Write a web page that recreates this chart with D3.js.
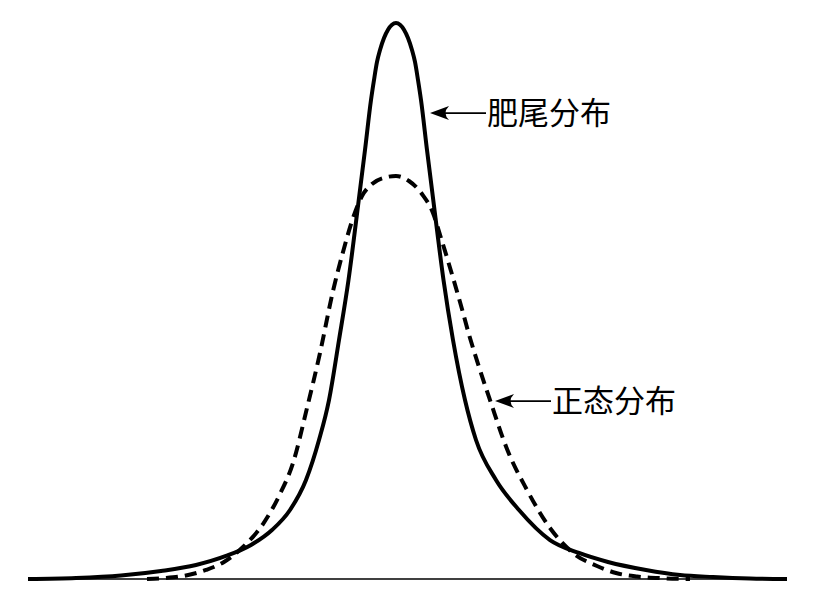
<!DOCTYPE html>
<html>
<head>
<meta charset="utf-8">
<script src="https://cdn.jsdelivr.net/npm/d3@7"></script>
<style>
  html, body { margin: 0; padding: 0; background: #fff; }
  svg { display: block; }
</style>
</head>
<body>
<svg id="chart" width="817" height="600"></svg>
<script>
// Fat-tailed distribution (solid) — x in units, relative density
const fatTailX = [-3.68, -3.20, -2.75, -2.35, -2.00, -1.70, -1.45, -1.24, -1.06, -0.90, -0.77, -0.67, -0.57, -0.475, -0.385, -0.31, -0.25, -0.22, -0.19, -0.16, -0.12, -0.08, -0.04, 0,
                  0.04, 0.08, 0.12, 0.16, 0.19, 0.22, 0.25, 0.31, 0.385, 0.475, 0.57, 0.69, 0.80, 1.00, 1.23, 1.54, 1.83, 2.12, 2.50, 2.84, 3.17, 3.54, 3.91];
const fatTailY = [0, 0.0018, 0.0063, 0.0144, 0.0252, 0.0414, 0.0612, 0.0881, 0.1241, 0.1781, 0.2500, 0.3219, 0.4299, 0.5378, 0.6637, 0.7716, 0.8615, 0.8975, 0.9299, 0.9514, 0.9730, 0.9879, 0.9969, 1.0,
                  0.9969, 0.9879, 0.9730, 0.9514, 0.9299, 0.8975, 0.8615, 0.7716, 0.6637, 0.5378, 0.4299, 0.3219, 0.2500, 0.1781, 0.1241, 0.0701, 0.0468, 0.0306, 0.0162, 0.0072, 0.0036, 0.0009, 0];

// Normal distribution (dashed)
const normalX = [-2.49, -2.30, -2.10, -1.90, -1.72, -1.53, -1.33, -1.16, -1.03, -0.89, -0.76, -0.63, -0.53, -0.43, -0.34, -0.24, -0.11, 0,
                 0.13, 0.26, 0.37, 0.45, 0.55, 0.64, 0.74, 0.84, 0.94, 1.11, 1.31, 1.54, 1.77, 2.01, 2.20, 2.41, 2.67, 2.94];
const normalY = [0, 0.0018, 0.0063, 0.0162, 0.0306, 0.0576, 0.0989, 0.1529, 0.2086, 0.3076, 0.4065, 0.5180, 0.5881, 0.6493, 0.6888, 0.7104, 0.7221, 0.7248,
                 0.7158, 0.6924, 0.6583, 0.6133, 0.5540, 0.4982, 0.4335, 0.3759, 0.3219, 0.2338, 0.1601, 0.0917, 0.0468, 0.0234, 0.0108, 0.0045, 0.0013, 0];

// Baseline extent
const baselineX = [-3.68, 3.91];

// Annotation labels (text + arrow tip in data units)
const labelText = ["肥尾分布", "正态分布"];
const labelTipX = [0.34, 0.99];
const labelTipY = [0.838, 0.320];

const svg = d3.select("#chart");
svg.append("rect").attr("width", 817).attr("height", 600).attr("fill", "#fff");

const x = d3.scaleLinear().domain([-4, 4]).range([-4, 796]);
const y = d3.scaleLinear().domain([0, 1]).range([579, 23]);

// baseline
svg.append("line")
  .attr("x1", x(baselineX[0])).attr("x2", x(baselineX[1]))
  .attr("y1", y(0)).attr("y2", y(0))
  .attr("stroke", "#000").attr("stroke-width", 1.6);

const line = d3.line()
  .x(d => x(d[0])).y(d => y(d[1]))
  .curve(d3.curveMonotoneX);

const fatData = fatTailX.map((v, i) => [v, fatTailY[i]]);
const normData = normalX.map((v, i) => [v, normalY[i]]);

svg.append("path")
  .attr("d", line(normData))
  .attr("fill", "none").attr("stroke", "#000")
  .attr("stroke-width", 4)
  .attr("stroke-dasharray", "12,7");

svg.append("path")
  .attr("d", line(fatData))
  .attr("fill", "none").attr("stroke", "#000")
  .attr("stroke-width", 4)
  .attr("stroke-linejoin", "round");

// annotations
labelText.forEach((t, i) => {
  const tx = x(labelTipX[i]);
  const ty = y(labelTipY[i]);
  const lineLen = 56;
  const g = svg.append("g");
  g.append("line")
    .attr("x1", tx + 6).attr("x2", tx + lineLen)
    .attr("y1", ty).attr("y2", ty)
    .attr("stroke", "#000").attr("stroke-width", 1.8);
  g.append("path")
    .attr("d", `M${tx},${ty} L${tx + 19},${ty - 7} Q${tx + 12},${ty} ${tx + 19},${ty + 7} Z`)
    .attr("fill", "#000");
  g.append("text")
    .attr("x", tx + lineLen + 1)
    .attr("y", ty)
    .attr("dy", "0.36em")
    .attr("font-family", "'Noto Sans CJK SC', sans-serif")
    .attr("font-size", 31)
    .attr("fill", "#000")
    .text(t);
});
</script>
</body>
</html>
